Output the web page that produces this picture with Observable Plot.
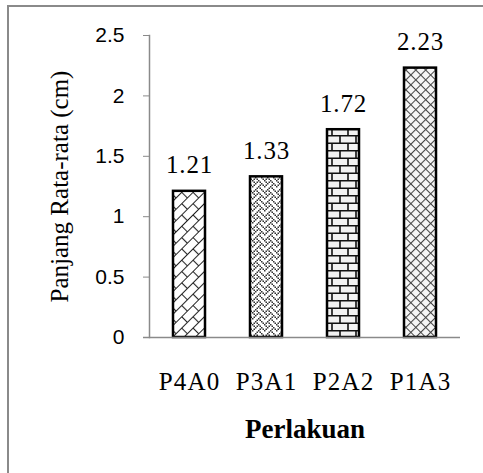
<!DOCTYPE html>
<html><head><meta charset="utf-8">
<script src="https://cdn.jsdelivr.net/npm/d3@7"></script>
<script src="https://cdn.jsdelivr.net/npm/@observablehq/plot@0.6"></script>
<style>
html,body{margin:0;padding:0;background:#fff;}
#wrap{position:relative;width:483px;height:473px;overflow:hidden;}
#frame{position:absolute;left:7px;top:5px;width:520px;height:520px;border-left:2px solid #8a8a8a;border-top:2px solid #8a8a8a;pointer-events:none;z-index:2;}
#chart{position:absolute;left:0;top:0;}
#chart g[aria-label="x-axis tick label"] text{letter-spacing:1.2px;}
#chart g.vals text{letter-spacing:0.8px;}
</style></head><body><div id="wrap"><div id="chart"></div><div id="frame"></div></div>
<script>
const categories = ["P4A0", "P3A1", "P2A2", "P1A3"];
const values = [1.21, 1.33, 1.72, 2.23];
const patterns = ["diagBrick", "weave", "hBrick", "diagCross"];
const yTicks = [0, 0.5, 1, 1.5, 2, 2.5];
const yLabel = "Panjang Rata-rata (cm)";
const xLabel = "Perlakuan";
const weaveBits = [
  "10001000",
  "01010100",
  "00100010",
  "01000101",
  "10001000",
  "00010100",
  "00100010",
  "01010001"
];

const data = categories.map((c, i) => ({cat: c, value: values[i], pat: patterns[i]}));

function defs() {
  const d = d3.create("svg:defs");
  // diagonal brick
  let p = d.append("pattern").attr("id", "diagBrick").attr("patternUnits", "userSpaceOnUse")
    .attr("width", 16).attr("height", 16).attr("patternTransform", "rotate(-45)");
  p.append("rect").attr("width", 16).attr("height", 16).attr("fill", "#fff");
  p.append("path").attr("d", "M0,0.5H16M0,8.5H16M0.5,0V8.5M8.5,8.5V16")
    .attr("stroke", "#222").attr("stroke-width", 1.1).attr("fill", "none");
  // weave
  const s = 1.5;
  p = d.append("pattern").attr("id", "weave").attr("patternUnits", "userSpaceOnUse")
    .attr("width", 8 * s).attr("height", 8 * s);
  p.append("rect").attr("width", 8 * s).attr("height", 8 * s).attr("fill", "#fff");
  weaveBits.forEach((row, r) => {
    [...row].forEach((b, c) => {
      if (b === "1") p.append("rect").attr("x", c * s).attr("y", r * s).attr("width", s).attr("height", s).attr("fill", "#333");
    });
  });
  // horizontal brick
  p = d.append("pattern").attr("id", "hBrick").attr("patternUnits", "userSpaceOnUse")
    .attr("width", 16).attr("height", 15);
  p.append("rect").attr("width", 16).attr("height", 15).attr("fill", "#f2f2f2");
  p.append("path").attr("d", "M0,0.8H16M0,8.3H16M4,0V8.3M12,8.3V15")
    .attr("stroke", "#111").attr("stroke-width", 1.6).attr("fill", "none");
  // diagonal cross
  p = d.append("pattern").attr("id", "diagCross").attr("patternUnits", "userSpaceOnUse")
    .attr("width", 7).attr("height", 7).attr("patternTransform", "rotate(45)");
  p.append("rect").attr("width", 7).attr("height", 7).attr("fill", "#f6f6f6");
  p.append("path").attr("d", "M0,0.5H7M0.5,0V7")
    .attr("stroke", "#444").attr("stroke-width", 1.1).attr("fill", "none");
  return d.node();
}

const serif = "'Liberation Serif', 'Times New Roman', serif";
const sans = "'Liberation Sans', Arial, sans-serif";

const chart = Plot.plot({
  width: 483,
  height: 473,
  marginLeft: 149,
  marginRight: 23,
  marginTop: 35,
  marginBottom: 136,
  style: {fontFamily: serif, background: "transparent", overflow: "visible"},
  x: {domain: categories, paddingInner: 0.59, paddingOuter: 0.3},
  y: {domain: [0, 2.5]},
  marks: [
    defs,
    ...data.map(d => Plot.barY([d], {x: "cat", y: "value", fill: `url(#${d.pat})`, stroke: "black", strokeWidth: 2.5})),
    Plot.frame({anchor: "left", stroke: "#8a8a8a", strokeWidth: 1.5}),
    Plot.ruleY([0], {stroke: "#8a8a8a", strokeWidth: 1.5, insetLeft: -6}),
    Plot.axisY({ticks: yTicks, tickFormat: d => String(d), tickSize: 6, tickPadding: 19, stroke: "#8a8a8a", fill: "black", fontSize: 21, fontFamily: sans, label: null}),
    Plot.axisX({tickSize: 0, tickPadding: 35, fontSize: 25, fontFamily: serif, label: null}),
    Plot.text(data, {x: "cat", y: "value", text: d => d.value.toFixed(2), dy: -18, lineAnchor: "bottom", fontSize: 25, fontFamily: serif, className: "vals"}),
    Plot.text([yLabel], {frameAnchor: "left", rotate: -90, dx: -82, textAnchor: "middle", lineAnchor: "bottom", fontSize: 25, fontFamily: serif}),
    Plot.text([xLabel], {frameAnchor: "bottom", dy: 100, textAnchor: "middle", lineAnchor: "bottom", fontSize: 27, fontWeight: "bold", fontFamily: serif})
  ]
});
document.getElementById("chart").appendChild(chart);
</script>
</body></html>
